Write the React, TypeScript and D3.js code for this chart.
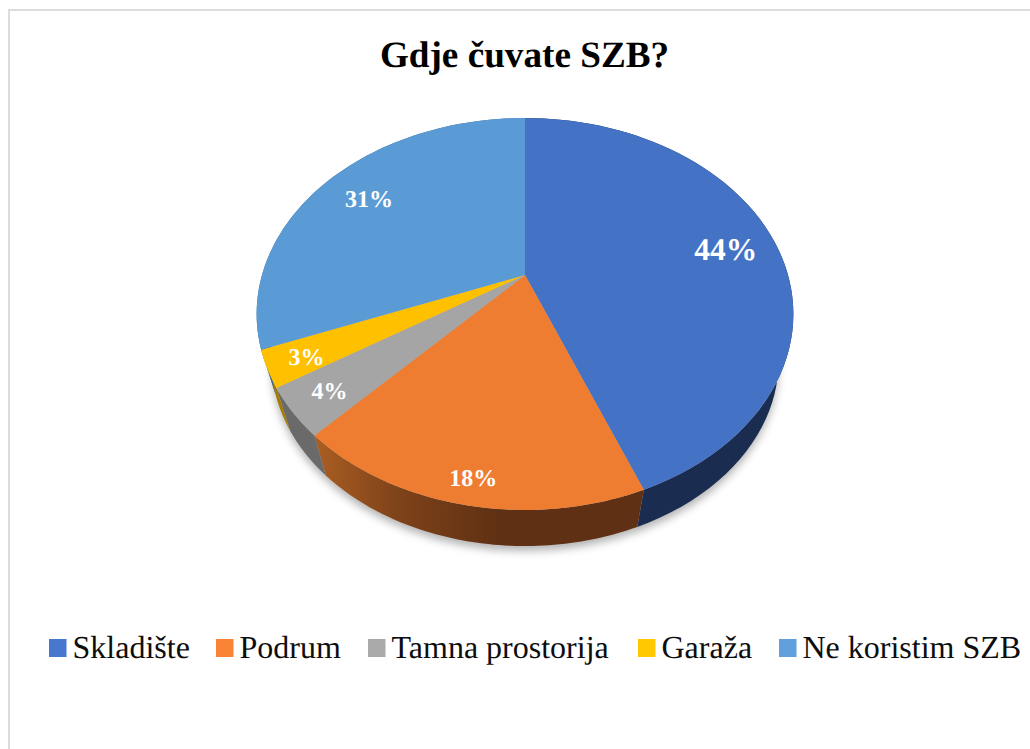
import React from "react";
import * as d3 from "d3";

const title = "Gdje čuvate SZB?";
const categories = ["Skladište", "Podrum", "Tamna prostorija", "Garaža", "Ne koristim SZB"];
const values = [44, 18, 4, 3, 31];
const labels = ["44%", "18%", "4%", "3%", "31%"];

const topColors = ["#4472c4", "#ef7d31", "#a5a5a5", "#ffc000", "#5b9bd5"];
const swatchColors = ["#4777cf", "#f98435", "#aaaaaa", "#ffc800", "#5fa0dd"];
const wallColors = ["#1a2c50", "url(#orangeWall)", "#6a6a6a", "#a37b00", "#3a6a96"];
const labelRadius = [0.8, 0.9, 0.86, 0.86, 0.78];
const labelSize = [31.5, 24, 24, 24, 24];
const labelNudgeX = [0, 2, 0, 0, 0];
const labelNudgeY = [2, 2, 1, 3, 1];
const legendSwatchX = [49, 216, 368, 638, 779];

const W = 1030;
const H = 749;
const CX = 525;
const APEX_Y = 275;
const A = 263;
const B = 188.2;
const P = -0.199;
const WALL_SCALE = 0.945;
const WALL_DROP = 49;
const FONT = "'Liberation Serif', 'Times New Roman', serif";

// perspective projection of the pie's plane: r in 0..1, a clockwise from 12 o'clock
function project(r: number, a: number, scale = 1, drop = 0): [number, number] {
  const X = r * Math.sin(a);
  const Y = -r * Math.cos(a);
  const d = 1 + P * Y;
  return [CX + (scale * A * X) / d, APEX_Y + drop + (scale * B * Y) / d];
}

function arcSamples(a0: number, a1: number): number[] {
  return d3.range(0, 65).map((i) => a0 + ((a1 - a0) * i) / 64);
}

const line = d3.line<[number, number]>();
const arcs = d3.pie<number>().sort(null)(values);

function topPath(a0: number, a1: number) {
  const pts: [number, number][] = [[CX, APEX_Y], ...arcSamples(a0, a1).map((a) => project(1, a))];
  return line(pts) + "Z";
}
function wallPath(a0: number, a1: number) {
  const s = arcSamples(a0, a1);
  const pts: [number, number][] = [
    ...s.map((a) => project(1, a)),
    ...s.slice().reverse().map((a) => project(1, a, WALL_SCALE, WALL_DROP)),
  ];
  return line(pts) + "Z";
}
const shadowPath =
  line(arcSamples(0, 2 * Math.PI).map((a) => project(1, a, WALL_SCALE, WALL_DROP + 5))) + "Z";

export default function App() {
  return (
    <svg
      width={W}
      height={H}
      viewBox={`0 0 ${W} ${H}`}
      textRendering="geometricPrecision"
      style={{ position: "absolute", left: 0, top: 0, display: "block", background: "#fff" }}
    >
      <defs>
        <linearGradient id="orangeWall" gradientUnits="userSpaceOnUse" x1={318} y1={0} x2={500} y2={0}>
          <stop offset="0" stopColor="#a95d22" />
          <stop offset="0.45" stopColor="#7d4219" />
          <stop offset="1" stopColor="#5f3013" />
        </linearGradient>
        <filter id="soft" x="-10%" y="-10%" width="120%" height="120%">
          <feGaussianBlur stdDeviation="4" />
        </filter>
      </defs>
      <path d={`M9,749V10H${W}`} fill="none" stroke="#dcdcdc" strokeWidth={2} />
      <text x={524.5} y={67} textAnchor="middle" fontFamily={FONT} fontWeight="bold" fontSize={37.2} fill="#000">
        {title}
      </text>
      <path d={shadowPath} fill="#000" fillOpacity={0.3} filter="url(#soft)" />
      <g>
        {arcs.map((d, i) => (
          <path key={i} d={wallPath(d.startAngle, d.endAngle)} fill={wallColors[i]} />
        ))}
      </g>
      <g>
        {arcs.map((d, i) => (
          <path key={i} d={topPath(d.startAngle, d.endAngle)} fill={topColors[i]} />
        ))}
      </g>
      <g>
        {arcs.map((d, i) => {
          const [x, y] = project(labelRadius[i], (d.startAngle + d.endAngle) / 2);
          return (
            <text
              key={i}
              x={x + labelNudgeX[i]}
              y={y + labelNudgeY[i]}
              textAnchor="middle"
              dominantBaseline="central"
              fontFamily={FONT}
              fontWeight="bold"
              fontSize={labelSize[i]}
              fill="#fff"
            >
              {labels[i]}
            </text>
          );
        })}
      </g>
      <g>
        {categories.map((c, i) => (
          <g key={c}>
            <rect x={legendSwatchX[i]} y={639} width={17.5} height={18} fill={swatchColors[i]} />
            <text x={legendSwatchX[i] + 23.5} y={658} fontFamily={FONT} fontSize={32} fill="#0d0d0d">
              {c}
            </text>
          </g>
        ))}
      </g>
    </svg>
  );
}
